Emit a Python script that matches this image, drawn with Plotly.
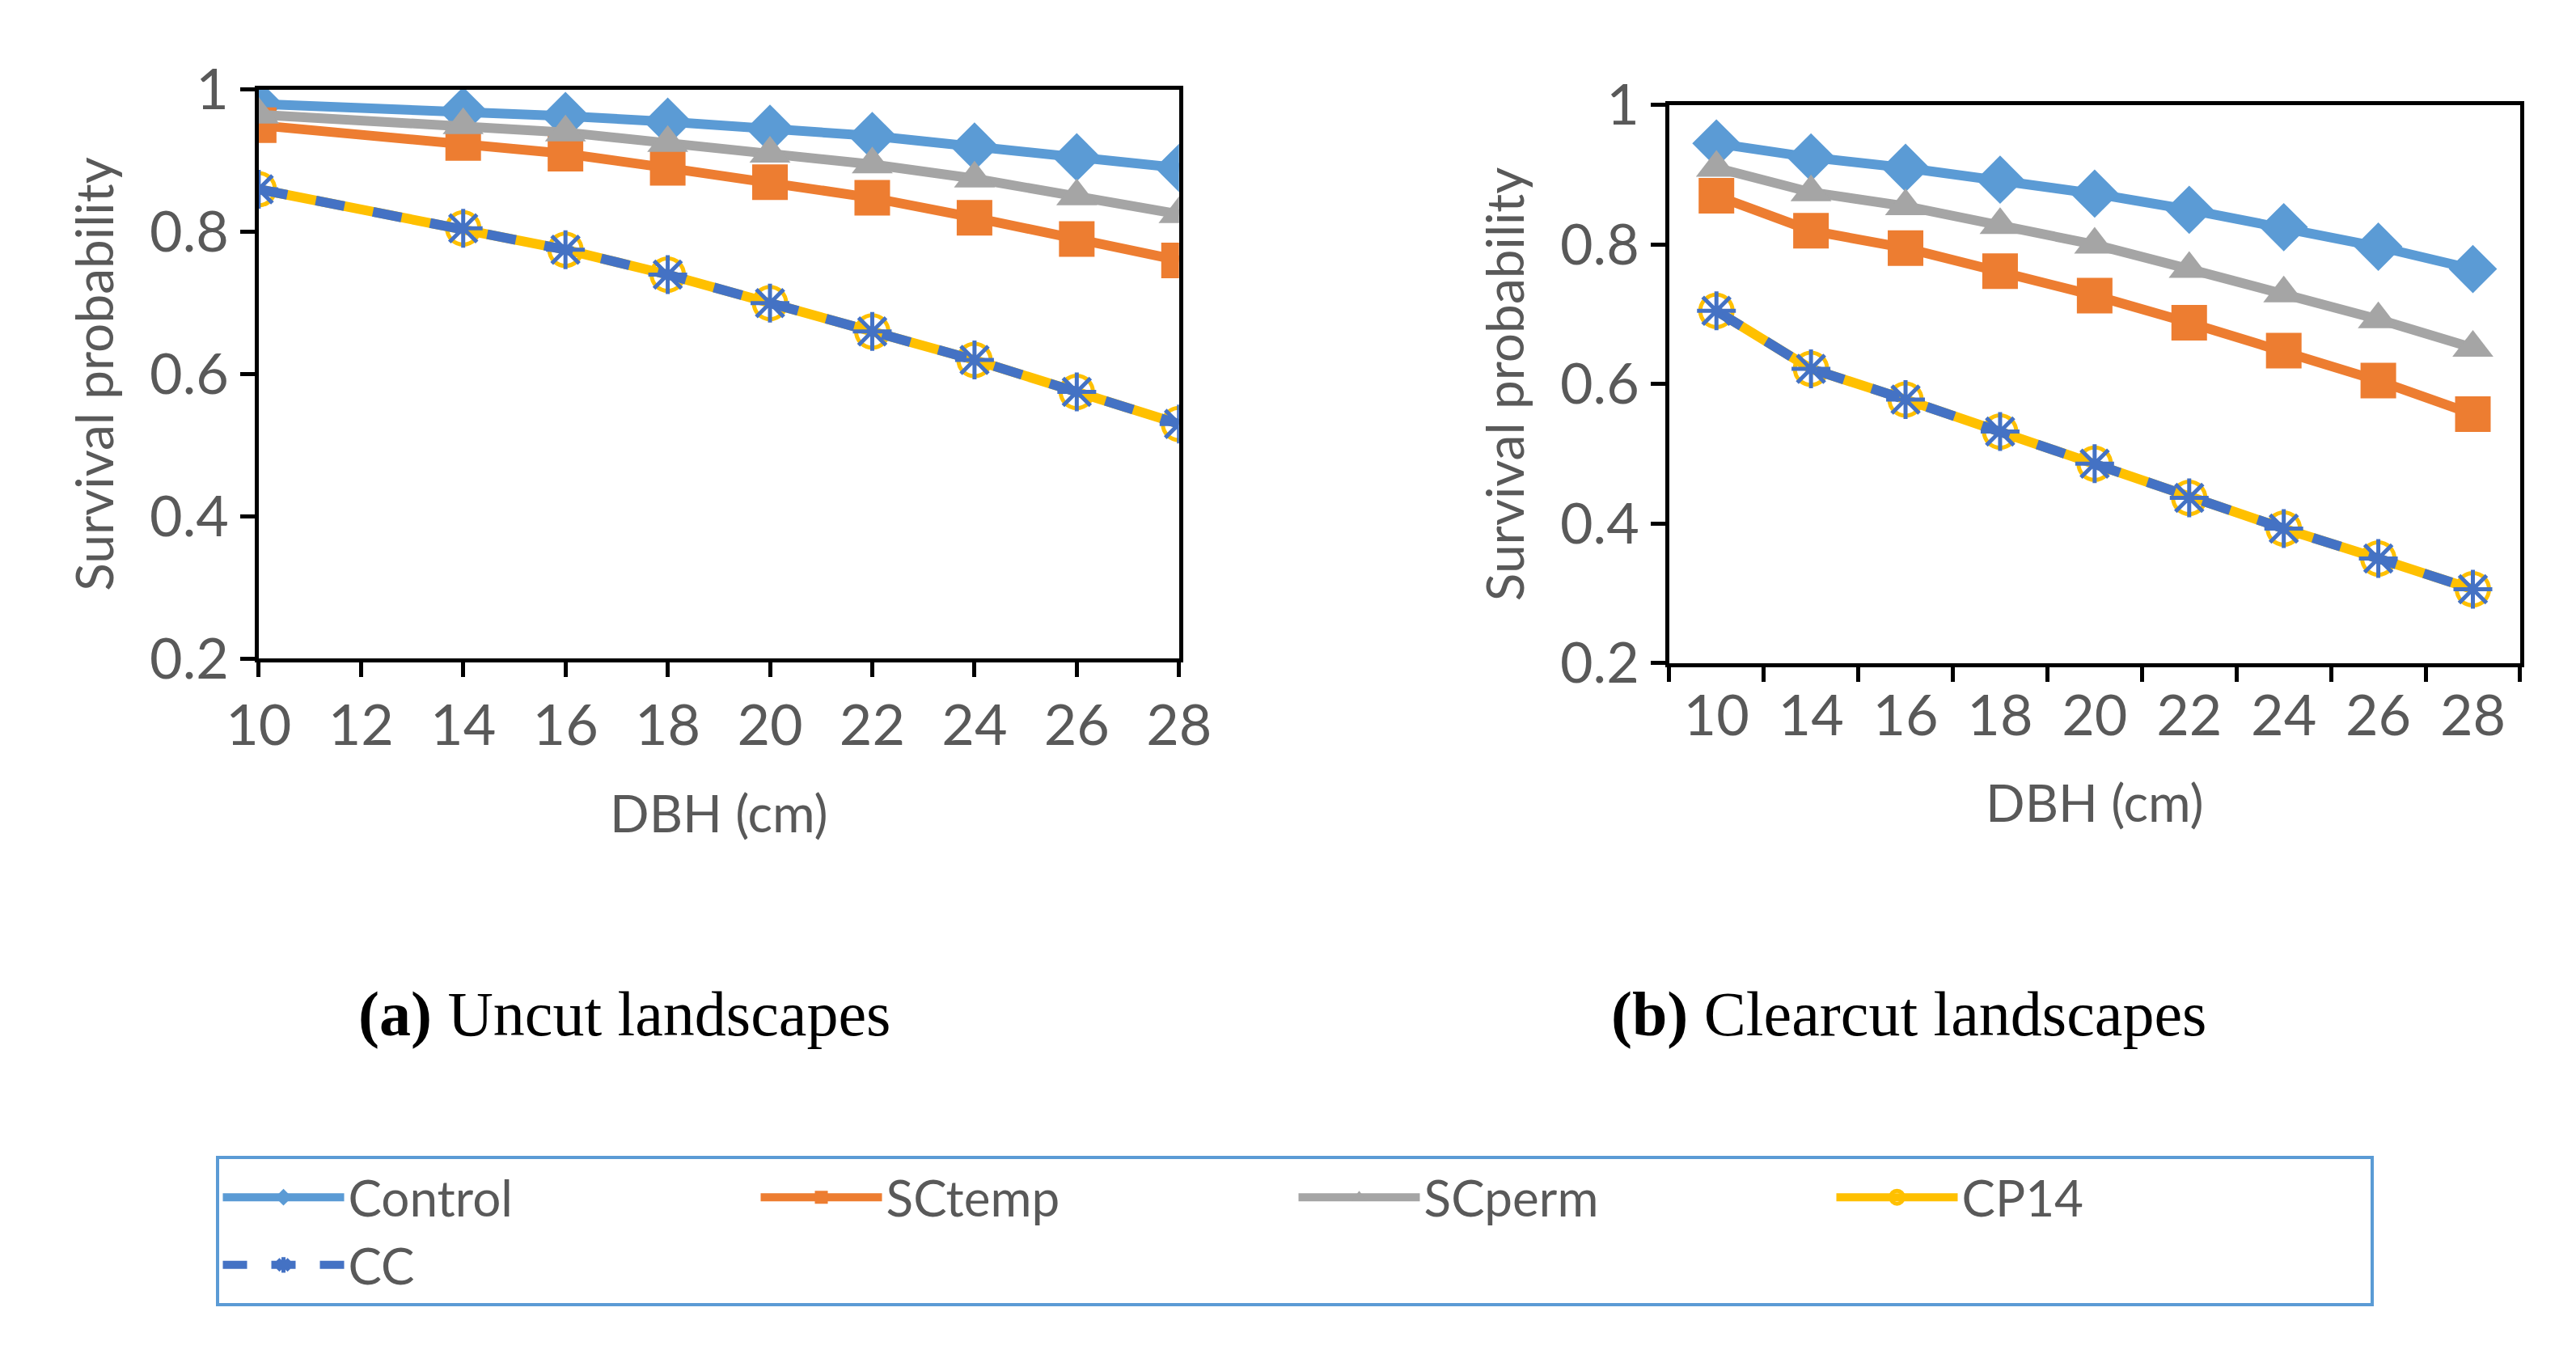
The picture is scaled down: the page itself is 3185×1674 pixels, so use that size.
import plotly.graph_objects as go

dbh_a = [10, 14, 16, 18, 20, 22, 24, 26, 28]
tick_a = [10, 12, 14, 16, 18, 20, 22, 24, 26, 28]
dbh_b = ["10", "14", "16", "18", "20", "22", "24", "26", "28"]

a_control = [0.98, 0.97, 0.963, 0.955, 0.945, 0.935, 0.92, 0.905, 0.89]
a_sctemp = [0.95, 0.925, 0.91, 0.89, 0.87, 0.848, 0.82, 0.79, 0.76]
a_scperm = [0.965, 0.95, 0.94, 0.925, 0.91, 0.895, 0.875, 0.85, 0.825]
a_cp14 = [0.86, 0.805, 0.775, 0.74, 0.70, 0.66, 0.62, 0.575, 0.53]
a_cc = [0.86, 0.805, 0.775, 0.74, 0.70, 0.66, 0.62, 0.575, 0.53]

b_control = [0.945, 0.925, 0.91, 0.893, 0.873, 0.85, 0.825, 0.797, 0.765]
b_sctemp = [0.87, 0.82, 0.795, 0.762, 0.727, 0.688, 0.648, 0.605, 0.557]
b_scperm = [0.91, 0.875, 0.855, 0.828, 0.80, 0.765, 0.73, 0.693, 0.652]
b_cp14 = [0.705, 0.622, 0.578, 0.532, 0.486, 0.437, 0.393, 0.35, 0.306]
b_cc = [0.705, 0.622, 0.578, 0.532, 0.486, 0.437, 0.393, 0.35, 0.306]

names = ["Control", "SCtemp", "SCperm", "CP14", "CC"]
colors = ["#5B9BD5", "#ED7D31", "#A5A5A5", "#FFC000", "#4472C4"]
symbols = ["diamond", "square", "triangle-up", "circle-open", "asterisk-open"]
sizes = [46, 44, 44, 40, 40]
dashes = ["solid", "solid", "solid", "solid", "dash"]

fig = go.Figure()
series_a = [a_control, a_sctemp, a_scperm, a_cp14, a_cc]
series_b = [b_control, b_sctemp, b_scperm, b_cp14, b_cc]
xb = list(range(len(dbh_b)))
for i in range(5):
    mk = dict(symbol=symbols[i], size=sizes[i], color=colors[i],
              line=dict(color=colors[i], width=5 if i >= 3 else 0))
    ln = dict(color=colors[i], width=12, dash=dashes[i])
    fig.add_trace(go.Scatter(x=dbh_a, y=series_a[i], name=names[i], mode="lines+markers",
                             line=ln, marker=mk, xaxis="x", yaxis="y"))
    fig.add_trace(go.Scatter(x=xb, y=series_b[i], name=names[i], mode="lines+markers",
                             line=ln, marker=mk, xaxis="x2", yaxis="y2", showlegend=False))

font = dict(family="Lato", color="#595959")
ax = dict(showline=True, linecolor="black", linewidth=5, mirror=True, showgrid=False,
          zeroline=False, ticks="outside", ticklen=18, tickwidth=5, tickcolor="black",
          tickfont=dict(size=70, **font))
W, H = 3185, 1674
def dx(px): return px / W
def dy(px): return 1 - px / H

fig.update_layout(
    width=W, height=H, paper_bgcolor="white", plot_bgcolor="white",
    margin=dict(l=0, r=0, t=0, b=0), font=font,
    xaxis=dict(ax, domain=[dx(278), dx(1446)], range=[10, 28], tickvals=tick_a,
               title=dict(text="DBH (cm)", font=dict(size=64, **font), standoff=50),
               anchor="y"),
    yaxis=dict(ax, domain=[dy(802), dy(61)], range=[0.2, 1.0], tickvals=[0.2, 0.4, 0.6, 0.8, 1.0],
               ticktext=["0.2", "0.4", "0.6", "0.8", "1"],
               title=dict(text="Survival probability", font=dict(size=64, **font), standoff=25),
               anchor="x"),
    xaxis2=dict(ax, domain=[dx(2068), dx(3148)], range=[-0.5, 8.5], tickvals=xb, ticktext=dbh_b,
                ticks="", minor=dict(ticks="outside", tick0=-0.5, dtick=1, ticklen=18,
                                      tickwidth=5, tickcolor="black"),
                title=dict(text="DBH (cm)", font=dict(size=64, **font), standoff=50),
                anchor="y2"),
    yaxis2=dict(ax, domain=[dy(808), dy(81)], range=[0.2, 1.0], tickvals=[0.2, 0.4, 0.6, 0.8, 1.0],
                ticktext=["0.2", "0.4", "0.6", "0.8", "1"],
                title=dict(text="Survival probability", font=dict(size=64, **font), standoff=25),
                anchor="x2"),
    legend=dict(orientation="h", x=0.5, xanchor="center", y=dy(1548), yanchor="middle",
                bordercolor="#5B9BD5", borderwidth=4, font=dict(size=62, **font),
                itemwidth=150, entrywidthmode="pixels", entrywidth=500, tracegroupgap=0),
    annotations=[
        dict(text="<b>(a)</b> Uncut landscapes", x=dx(742), y=dy(1265), xref="paper", yref="paper",
             xanchor="center", yanchor="middle", showarrow=False,
             font=dict(family="Liberation Serif", size=78, color="black")),
        dict(text="<b>(b)</b> Clearcut landscapes", x=dx(2372), y=dy(1265), xref="paper", yref="paper",
             xanchor="center", yanchor="middle", showarrow=False,
             font=dict(family="Liberation Serif", size=78, color="black")),
    ],
)
fig.write_html("out.html")
